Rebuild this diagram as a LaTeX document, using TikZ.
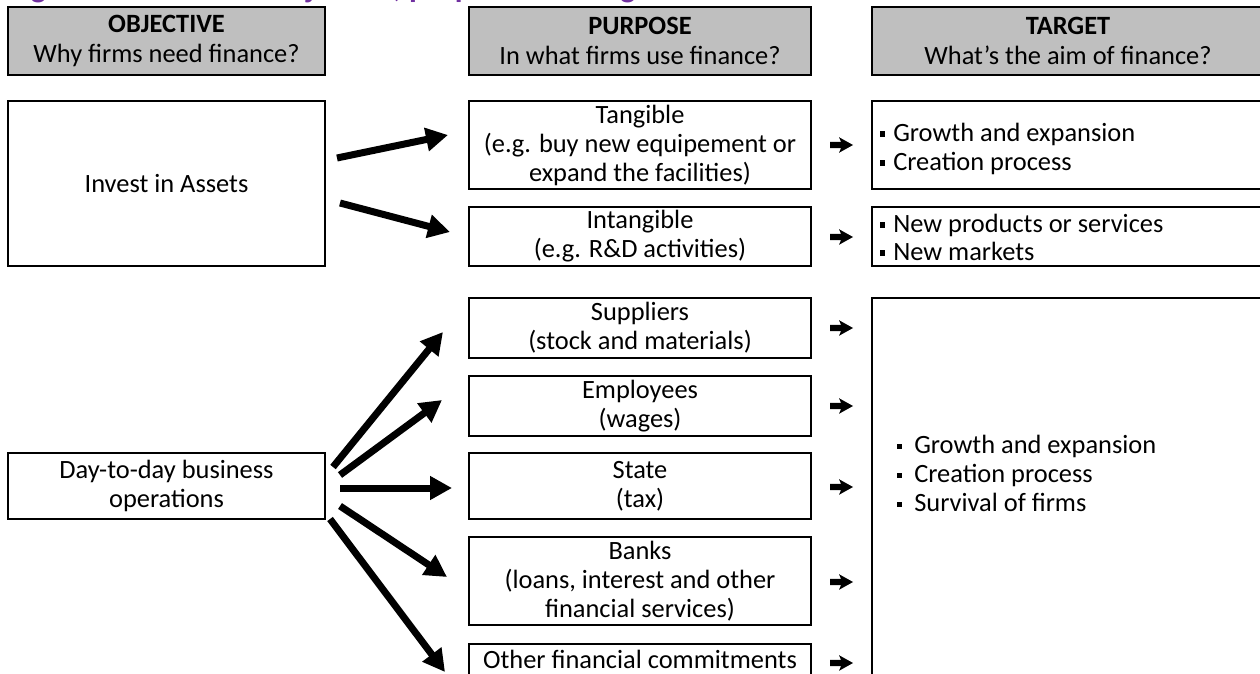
\documentclass[tikz,border=0pt]{standalone}
\usepackage{fontspec}
\setmainfont{Carlito}
\usetikzlibrary{arrows.meta}
\definecolor{titlepurple}{HTML}{7030A0}
\definecolor{hdrgray}{HTML}{BFBFBF}
\newcommand\myfs{\fontsize{19.8}{21.75}\selectfont}
\newcommand\hdfs{\fontsize{19.8}{22.5}\selectfont}
\newcommand\sqb[1]{\makebox[#1][l]{\rule[0.17em]{0.19em}{0.19em}}}
\begin{document}
\begin{tikzpicture}[x=0.75pt,y=-0.75pt,
  box/.style 2 args={draw, line width=1.5pt, inner sep=0pt, align=center, font=\myfs,
     minimum width=#1*0.75pt, minimum height=#2*0.75pt},
  hdr/.style 2 args={box={#1}{#2}, fill=hdrgray, font=\hdfs},
  bullet/.style={anchor=base west, inner sep=0pt, font=\myfs},
  bigarrow/.style={line width=5.25pt, -{Triangle[length=16.5pt,width=17pt]}},
  smallarrow/.style={fill=black}
]
\useasboundingbox (0,0) rectangle (1260,674);
\clip (0,0) rectangle (1260,674);

% title (cut off at the top)
\node[anchor=base west, inner sep=0pt, text=titlepurple,
      font=\fontsize{24}{28}\selectfont\bfseries] (title) at (8,-2)
  {Figure 1: The firms' objective, purpose and target};

% headers
\node[hdr={317}{68}] (hobj) at (166.5,41) {\textbf{OBJECTIVE}\\Why firms need finance?};
\node[hdr={342}{68}] (hpur) at (640,41) {\textbf{PURPOSE}\\In what firms use finance?};
\node[hdr={392}{68}] (htar) at (1068,41) {\textbf{TARGET}\\What’s the aim of finance?};

% row 1
\node[box={317}{165}] (invest) at (166.5,183.5) {Invest in Assets};
\node[box={342}{88}] (tang) at (640,145) {Tangible\\(e.g. buy new equipement or\\expand the facilities)};
\node[box={342}{59}] (intang) at (640,236.5) {Intangible\\(e.g. R\&D activities)};
\node[box={392}{88}] (tgtone) at (1068,145) {};
\node[box={392}{59}] (tgttwo) at (1068,236.5) {};
\node[bullet] (t1a) at (880,141) {\sqb{9.75pt}Growth and expansion};
\node[bullet] (t1b) at (880,170) {\sqb{9.75pt}Creation process};
\node[bullet] (t2a) at (880,232) {\sqb{9.75pt}New products or services};
\node[bullet] (t2b) at (880,260) {\sqb{9.75pt}New markets};

% row 2
\node[box={317}{66}] (day) at (166.5,486) {Day-to-day business\\operations};
\node[box={342}{60}] (sup) at (640,328) {Suppliers\\(stock and materials)};
\node[box={342}{60}] (emp) at (640,406) {Employees\\(wages)};
\node[box={342}{66}] (state) at (640,486) {State\\(tax)};
\node[box={342}{88}] (banks) at (640,581) {Banks\\(loans, interest and other\\financial services)};
\node[box={342}{60}] (other) at (640,674) {};
\node[anchor=base, inner sep=0pt, font=\myfs] (othertxt) at (640,668) {Other financial commitments};
\node[box={392}{400}] (tgtthree) at (1068,498) {};
\node[bullet] (t3a) at (897,453) {\sqb{12.75pt}Growth and expansion};
\node[bullet] (t3b) at (897,482) {\sqb{12.75pt}Creation process};
\node[bullet] (t3c) at (897,511) {\sqb{12.75pt}Survival of firms};

% big arrows
\coordinate (a1s) at (337,158); \coordinate (a1e) at (448,135);
\coordinate (a2s) at (340,203); \coordinate (a2e) at (450,232);
\coordinate (b1s) at (333,467); \coordinate (b1e) at (443,332);
\coordinate (b2s) at (340,475); \coordinate (b2e) at (442,400);
\coordinate (b3s) at (340,488); \coordinate (b3e) at (452,488);
\coordinate (b4s) at (340,506); \coordinate (b4e) at (447,577);
\coordinate (b5s) at (330,519); \coordinate (b5e) at (445,672);
\foreach \p in {a1,a2,b1,b2,b3,b4,b5}
  \draw[bigarrow] (\p s) -- (\p e);

% small arrows
\coordinate (s1) at (841,145);
\coordinate (s2) at (841,237);
\coordinate (s3) at (841,328);
\coordinate (s4) at (841,406);
\coordinate (s5) at (841,487);
\coordinate (s6) at (841,582);
\coordinate (s7) at (841,663);
\foreach \s in {s1,s2,s3,s4,s5,s6,s7}
  \fill[smallarrow, shift={(\s)}] (-11,-3.2) -- (0,-3.2) -- (-2,-7.8) -- (12,0)
     -- (-2,7.8) -- (0,3.2) -- (-11,3.2) -- cycle;
\end{tikzpicture}
\end{document}
